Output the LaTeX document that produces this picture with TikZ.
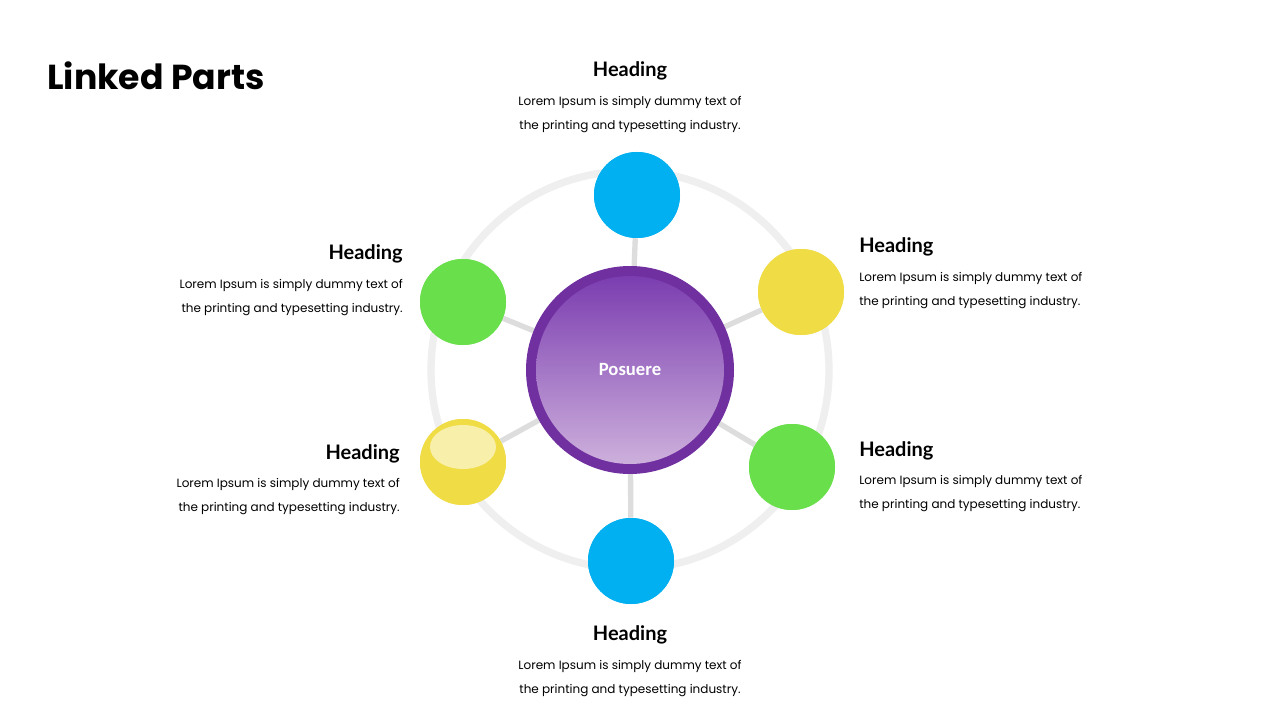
\documentclass[tikz,border=0pt]{standalone}
\usepackage{fontspec}
\setmainfont{Poppins}
\newfontfamily\headfont{Lato}
\newfontfamily\centfont{Carlito}
\definecolor{ringgray}{HTML}{EFEFEF}
\definecolor{spoke}{HTML}{DDDDDD}
\definecolor{cblue}{HTML}{00B0F0}
\definecolor{cyellow}{HTML}{F0DC44}
\definecolor{cgreen}{HTML}{6ADF4C}
\definecolor{cpurple}{HTML}{7030A0}
\definecolor{ptop}{HTML}{7B3DB0}
\definecolor{pbot}{HTML}{CDB0DC}
\tikzset{
  sat/.style={circle,minimum size=86*0.75pt,inner sep=0pt},
  head/.style={font=\headfont\bfseries\fontsize{15}{18}\selectfont,inner sep=0pt},
  body/.style={font=\fontsize{9}{18}\selectfont,inner sep=0pt,align=#1},
  body/.default=left
}
\begin{document}
\begin{tikzpicture}[x=0.75pt,y=-0.75pt]
\useasboundingbox[fill=white] (0,0) rectangle (1280,720);
\node[anchor=west,inner sep=0pt,font=\bfseries\fontsize{26}{30}\selectfont] (title) at (47,76) {Linked Parts};
\coordinate (c) at (630,370);
\draw[ringgray,line width=5.5pt] (c) circle (199);
\node[sat,fill=cblue] (s1) at (637,195) {};
\node[sat,fill=cyellow] (s2) at (801,292) {};
\node[sat,fill=cgreen] (s3) at (792,467) {};
\node[sat,fill=cblue] (s4) at (631,561) {};
\node[sat,fill=cyellow] (s5) at (463,462) {};
\node[sat,fill=cgreen] (s6) at (463,302) {};
\foreach \s in {s1,s2,s3,s4,s5,s6}{\draw[spoke,line width=4pt] (c) -- (\s);}
\foreach \s/\col in {s1/cblue,s2/cyellow,s3/cgreen,s4/cblue,s5/cyellow,s6/cgreen}{\fill[\col] (\s) circle (43);}
\fill[white,opacity=0.55] (463,447) ellipse (33 and 22);
\fill[cpurple] (c) circle (104);
\node[circle,minimum size=188*0.75pt,inner sep=0pt,top color=ptop,bottom color=pbot,font=\centfont\bfseries\fontsize{14}{16}\selectfont,text=white] (ctr) at (c) {\raisebox{0pt}{Posuere}};
% texts
\node[head] (h1) at (630,71) {Heading};
\node[body=center] (t1) at (630,115) {Lorem Ipsum is simply dummy text of\\the printing and typesetting industry.};
\node[head,anchor=west] (h2) at (859,247) {Heading};
\node[body,anchor=west] (t2) at (859,291) {Lorem Ipsum is simply dummy text of\\the printing and typesetting industry.};
\node[head,anchor=west] (h3) at (859,451) {Heading};
\node[body,anchor=west] (t3) at (859,494) {Lorem Ipsum is simply dummy text of\\the printing and typesetting industry.};
\node[head] (h4) at (630,635) {Heading};
\node[body=center] (t4) at (630,679) {Lorem Ipsum is simply dummy text of\\the printing and typesetting industry.};
\node[head,anchor=east] (h5) at (400,454) {Heading};
\node[body=right,anchor=east] (t5) at (400,497) {Lorem Ipsum is simply dummy text of\\the printing and typesetting industry.};
\node[head,anchor=east] (h6) at (403,254) {Heading};
\node[body=right,anchor=east] (t6) at (403,298) {Lorem Ipsum is simply dummy text of\\the printing and typesetting industry.};
\end{tikzpicture}
\end{document}
